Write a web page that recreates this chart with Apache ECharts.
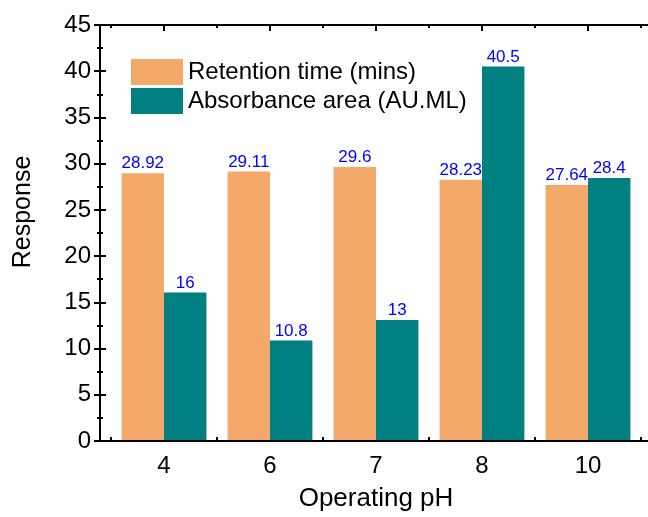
<!DOCTYPE html>
<html>
<head>
<meta charset="utf-8">
<script src="https://cdn.jsdelivr.net/npm/echarts@6/dist/echarts.min.js"></script>
<style>
  html, body { margin: 0; padding: 0; background: #fff; }
  #chart { width: 648px; height: 517px; }
</style>
</head>
<body>
<div id="chart"></div>
<script>
'use strict'

const categories = ['4', '6', '7', '8', '10'];
const retentionTime = [28.92, 29.11, 29.6, 28.23, 27.64];
const absorbanceArea = [16, 10.8, 13, 40.5, 28.4];
const seriesNames = ['Retention time (mins)', 'Absorbance area (AU.ML)'];

const FONT = "'Liberation Sans', Arial, sans-serif";
const INK = '#000';

const chart = echarts.init(document.getElementById('chart'), null, {renderer: 'canvas'});

// frame: outer box with y scale, slightly wider than the category band
const frameGrid = {left: 100, right: -3, top: 25, bottom: 76};
// bars: category band inset from the frame
const barGrid = {left: 111, right: 7, top: 25, bottom: 76};

function frameX(position) {
  return {
    type: 'value', gridIndex: 0, position: position, min: 0, max: 1,
    axisLine: {show: true, onZero: false, lineStyle: {color: INK, width: 2}},
    axisTick: {show: false}, axisLabel: {show: false}, splitLine: {show: false}
  };
}

function frameY(position, withLabels) {
  return {
    type: 'value', gridIndex: 0, position: position, min: 0, max: 45, interval: 5,
    name: withLabels ? 'Response' : '',
    nameLocation: 'middle', nameGap: 64,
    nameTextStyle: {fontFamily: FONT, fontSize: 25, color: INK, padding: [0, 0, 0, 42]},
    axisLine: {show: true, lineStyle: {color: INK, width: 2}},
    axisTick: {show: true, inside: true, length: 6, lineStyle: {color: INK, width: 2}},
    minorTick: {show: true, splitNumber: 2, length: 3, lineStyle: {color: INK, width: 2}},
    axisLabel: {show: withLabels, fontFamily: FONT, fontSize: 24, color: INK, margin: 9},
    splitLine: {show: false}
  };
}

function catAxis(position, centered, len, withLabels) {
  return {
    type: 'category', gridIndex: 1, position: position, data: categories,
    name: withLabels ? 'Operating pH' : '',
    nameLocation: 'middle', nameGap: 46,
    nameTextStyle: {fontFamily: FONT, fontSize: 26, color: INK},
    axisLine: {show: false},
    axisTick: {show: true, inside: true, alignWithLabel: centered, length: len,
      lineStyle: {color: INK, width: 2}},
    axisLabel: {show: withLabels, fontFamily: FONT, fontSize: 24, color: INK, margin: 14},
    splitLine: {show: false}
  };
}

const labelStyle = {
  show: true, position: 'top', distance: 1,
  fontFamily: FONT, fontSize: 17, color: '#0000FF'
};

const option = {
  animation: false,
  backgroundColor: '#fff',
  grid: [frameGrid, barGrid],
  legend: {
    orient: 'vertical', left: 126, top: 54,
    itemWidth: 52, itemHeight: 26, itemGap: 3,
    textStyle: {fontFamily: FONT, fontSize: 24, color: INK},
    icon: 'rect',
    data: seriesNames
  },
  xAxis: [
    frameX('bottom'),
    frameX('top'),
    catAxis('bottom', true, 6, true),
    catAxis('bottom', false, 3, false),
    catAxis('top', true, 6, false),
    catAxis('top', false, 3, false)
  ],
  yAxis: [
    frameY('left', true),
    frameY('right', false),
    {type: 'value', gridIndex: 1, min: 0, max: 45, show: false}
  ],
  series: [
    {
      name: seriesNames[0], type: 'bar', xAxisIndex: 2, yAxisIndex: 2,
      data: retentionTime, barGap: 0, barCategoryGap: '20%',
      itemStyle: {color: '#F4A86A'}, label: labelStyle
    },
    {
      name: seriesNames[1], type: 'bar', xAxisIndex: 2, yAxisIndex: 2,
      data: absorbanceArea, barGap: 0, barCategoryGap: '20%',
      itemStyle: {color: '#008080'}, label: labelStyle
    }
  ]
};

chart.setOption(option);
</script>
</body>
</html>
